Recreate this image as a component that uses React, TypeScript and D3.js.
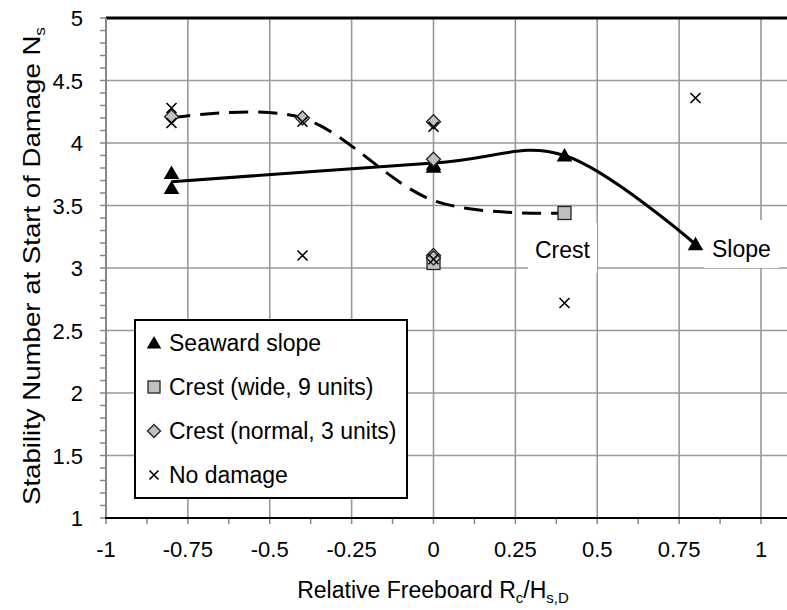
import React from 'react';
import * as d3 from 'd3';

// ---- data ----
const seawardSlope: [number, number][] = [
  [-0.8, 3.76], [-0.8, 3.64], [0, 3.83], [0, 3.81], [0.4, 3.9], [0.8, 3.19],
];
const crestWide: [number, number][] = [
  [0, 3.04], [0.4, 3.44],
];
const crestNormal: [number, number][] = [
  [-0.8, 4.21], [-0.4, 4.2], [0, 4.17], [0, 3.87], [0, 3.1], [0, 3.08],
];
const noDamage: [number, number][] = [
  [-0.8, 4.28], [-0.8, 4.16], [-0.4, 4.17], [-0.4, 3.1], [0, 4.13], [0, 3.07],
  [0.4, 2.72], [0.8, 4.36],
];
// trend curves (Excel smoothed lines)
const slopeCurve: [number, number][] = [
  [-0.8, 3.69], [0, 3.84], [0.4, 3.9], [0.8, 3.19],
];
const crestCurve: [number, number][] = [
  [-0.8, 4.2], [-0.4, 4.2], [0, 3.54], [0.4, 3.44],
];
const xTicks = [-1, -0.75, -0.5, -0.25, 0, 0.25, 0.5, 0.75, 1];
const yTicks = [1, 1.5, 2, 2.5, 3, 3.5, 4, 4.5, 5];

const W = 787;
const H = 610;
const FONT = 'Liberation Sans, Arial, sans-serif';
const PLOT = { left: 106, top: 18, bottom: 518, right: 800 };

const x = d3.scaleLinear().domain([-1, 1]).range([PLOT.left, 761]);
const y = d3.scaleLinear().domain([1, 5]).range([PLOT.bottom, PLOT.top]);

const GRID = '#999999';

const Triangle = ({ cx, cy, s = 15 }: { cx: number; cy: number; s?: number }) => (
  <path d={`M${cx},${cy - s * 0.5}L${cx + s * 0.52},${cy + s * 0.4}L${cx - s * 0.52},${cy + s * 0.4}Z`} fill="#000" />
);
const Square = ({ cx, cy, s = 13 }: { cx: number; cy: number; s?: number }) => (
  <rect x={cx - s / 2} y={cy - s / 2} width={s} height={s} fill="#c0c0c0" stroke="#222" strokeWidth={1.3} />
);
const Diamond = ({ cx, cy, s = 14 }: { cx: number; cy: number; s?: number }) => (
  <path d={`M${cx},${cy - s / 2}L${cx + s / 2},${cy}L${cx},${cy + s / 2}L${cx - s / 2},${cy}Z`} fill="#c0c0c0" stroke="#222" strokeWidth={1.3} />
);
const Cross = ({ cx, cy, s = 10 }: { cx: number; cy: number; s?: number }) => (
  <path d={`M${cx - s / 2},${cy - s / 2}L${cx + s / 2},${cy + s / 2}M${cx + s / 2},${cy - s / 2}L${cx - s / 2},${cy + s / 2}`} stroke="#000" strokeWidth={1.6} />
);

const App: React.FC = () => {
  const line = d3.line<[number, number]>()
    .x(d => x(d[0]))
    .y(d => y(d[1]))
    .curve(d3.curveCardinal.tension(0));

  const yMinor = d3.range(10, 51).map(v => v / 10);
  const xMinor = d3.range(-8, 9).map(v => v / 8);

  const legendItems = [
    { label: 'Seaward slope', kind: 'tri' },
    { label: 'Crest (wide, 9 units)', kind: 'sq' },
    { label: 'Crest (normal, 3 units)', kind: 'dia' },
    { label: 'No damage', kind: 'x' },
  ];

  return (
    <svg width={W} height={H} style={{ position: 'absolute', left: 0, top: 0, background: '#fff' }} fontFamily={FONT}>
      {/* grid */}
      {xTicks.slice(1).map(t => (
        <line key={'gx' + t} x1={x(t)} x2={x(t)} y1={PLOT.top} y2={PLOT.bottom} stroke={GRID} strokeWidth={1.6} />
      ))}
      {yTicks.slice(1, -1).map(t => (
        <line key={'gy' + t} x1={PLOT.left} x2={PLOT.right} y1={y(t)} y2={y(t)} stroke={GRID} strokeWidth={1.6} />
      ))}

      {/* label boxes (white, break the grid) */}
      <rect x={528} y={223} width={69} height={50} fill="#fff" />
      <rect x={704} y={220} width={75} height={48} fill="#fff" />

      {/* curves */}
      <path d={line(crestCurve) ?? ''} fill="none" stroke="#000" strokeWidth={3} strokeDasharray="19 10" />
      <path d={line(slopeCurve) ?? ''} fill="none" stroke="#000" strokeWidth={3} />

      {/* markers */}
      {seawardSlope.map((d, i) => <Triangle key={'t' + i} cx={x(d[0])} cy={y(d[1])} />)}
      {crestWide.map((d, i) => <Square key={'s' + i} cx={x(d[0])} cy={y(d[1])} />)}
      {crestNormal.map((d, i) => <Diamond key={'d' + i} cx={x(d[0])} cy={y(d[1])} />)}
      {noDamage.map((d, i) => <Cross key={'x' + i} cx={x(d[0])} cy={y(d[1])} />)}

      {/* annotations */}
      <text x={535} y={258} fontSize={23} fill="#000">Crest</text>
      <text x={712} y={257} fontSize={23} fill="#000">Slope</text>

      {/* axes */}
      <line x1={PLOT.left} x2={PLOT.right} y1={PLOT.top} y2={PLOT.top} stroke="#000" strokeWidth={3} />
      <line x1={PLOT.left} x2={PLOT.left} y1={PLOT.top} y2={PLOT.bottom} stroke="#888" strokeWidth={2} />
      {yMinor.map(v => (
        <line key={'ym' + v} x1={PLOT.left - 6} x2={PLOT.left} y1={y(v)} y2={y(v)} stroke="#888" strokeWidth={1.5} />
      ))}
      {xMinor.map(v => (
        <line key={'xm' + v} x1={x(v)} x2={x(v)} y1={PLOT.bottom} y2={PLOT.bottom + 6} stroke="#888" strokeWidth={1.5} />
      ))}
      <line x1={PLOT.left - 1} x2={PLOT.right} y1={PLOT.bottom} y2={PLOT.bottom} stroke="#000" strokeWidth={2} />

      {yTicks.map(t => (
        <text key={'yl' + t} x={83} y={y(t) + 8} textAnchor="end" fontSize={22} fill="#000">{t}</text>
      ))}
      {xTicks.map(t => (
        <text key={'xl' + t} x={x(t)} y={557} textAnchor="middle" fontSize={22} fill="#000">{t}</text>
      ))}

      {/* axis titles */}
      <text x={433} y={598} textAnchor="middle" fontSize={23} fill="#000">
        Relative Freeboard R<tspan fontSize={15} dy={5}>c</tspan><tspan dy={-5}>/H</tspan><tspan fontSize={15} dy={5}>s,D</tspan>
      </text>
      <text transform={`translate(40,${(PLOT.top + PLOT.bottom) / 2 - 2}) rotate(-90)`} textAnchor="middle" fontSize={24} fill="#000"
        textLength={478} lengthAdjust="spacingAndGlyphs">
        Stability Number at Start of Damage N<tspan fontSize={15} dy={5}>s</tspan>
      </text>

      {/* legend */}
      <rect x={135} y={320} width={272} height={178} fill="#fff" stroke="#000" strokeWidth={2} />
      {legendItems.map((it, i) => {
        const cy = 343 + i * 44;
        const cx = 154;
        return (
          <g key={it.label}>
            {it.kind === 'tri' && <Triangle cx={cx} cy={cy} s={14} />}
            {it.kind === 'sq' && <Square cx={cx} cy={cy} s={12} />}
            {it.kind === 'dia' && <Diamond cx={cx} cy={cy} s={13} />}
            {it.kind === 'x' && <Cross cx={cx} cy={cy} s={9} />}
            <text x={169} y={cy + 8} fontSize={23} fill="#000">{it.label}</text>
          </g>
        );
      })}
    </svg>
  );
};

export default App;
